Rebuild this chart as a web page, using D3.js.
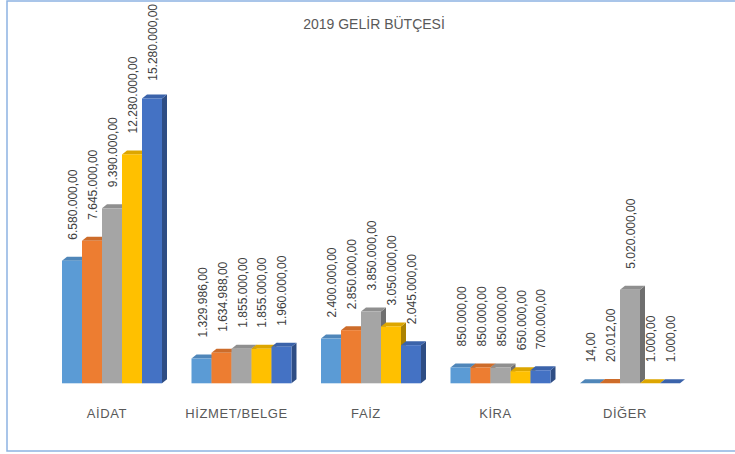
<!DOCTYPE html>
<html>
<head>
<meta charset="utf-8">
<script src="https://cdn.jsdelivr.net/npm/d3@7"></script>
<style>
  body { margin: 0; background: #fff; }
  text { font-family: "Liberation Sans", Arial, sans-serif; }
</style>
</head>
<body>
<div id="chart"></div>
<script>
const categories = ["AİDAT", "HİZMET/BELGE", "FAİZ", "KİRA", "DİĞER"];
const seriesA = [6580000, 1329986, 2400000, 850000, 14];
const seriesB = [7645000, 1634988, 2850000, 850000, 20012];
const seriesC = [9390000, 1855000, 3850000, 850000, 5020000];
const seriesD = [12280000, 1855000, 3050000, 650000, 1000];
const seriesE = [15280000, 1960000, 2045000, 700000, 1000];
const colors = ["#5B9BD5", "#ED7D31", "#A5A5A5", "#FFC000", "#4472C4"];
const title = "2019 GELİR BÜTÇESİ";

const series = [seriesA, seriesB, seriesC, seriesD, seriesE];

const width = 735, height = 454;
const depthX = 5, depthY = -4;   // 3d offset of bar top / side
const labelGap = 21;

const trLocale = d3.formatLocale({ decimal: ",", thousands: ".", grouping: [3], currency: ["", ""] });
const fmt = trLocale.format(",.2f");

const svg = d3.select("#chart").append("svg")
    .attr("width", width)
    .attr("height", height);

svg.append("rect")
    .attr("x", 7).attr("y", 1)
    .attr("width", 800).attr("height", 450)
    .attr("fill", "#fff")
    .attr("stroke", "#8db3e2")
    .attr("stroke-width", 1.5);

svg.append("text")
    .attr("x", 374).attr("y", 29)
    .attr("text-anchor", "middle")
    .attr("font-size", 14)
    .attr("fill", "#595959")
    .text(title);

const x0 = d3.scaleBand()
    .domain(categories)
    .range([47.25, 694.75])
    .paddingInner(0.2278)
    .paddingOuter(0.1139);

const x1 = d3.scaleBand()
    .domain(d3.range(series.length))
    .range([0, x0.bandwidth()]);

const y = d3.scaleLinear()
    .domain([0, 18000000])
    .range([383.3, 383.3 - 18 * 18.64]);

const bars = [];
categories.forEach((cat, i) => {
    series.forEach((s, j) => {
        bars.push({ cat: cat, s: j, value: s[i] });
    });
});

const gBars = svg.append("g");
const w = x1.bandwidth();

// draw left to right so later bars cover the sides of earlier ones
bars.forEach(b => {
    const xl = x0(b.cat) + x1(b.s);
    const yt = y(b.value);
    const yb = y(0);
    const c = d3.color(colors[b.s]);
    const g = gBars.append("g");

    g.append("path")
        .attr("d", `M${xl + w},${yt} L${xl + w + depthX},${yt + depthY} L${xl + w + depthX},${yb + depthY} L${xl + w},${yb} Z`)
        .attr("fill", c.darker(1.1));
    g.append("path")
        .attr("d", `M${xl},${yt} L${xl + depthX},${yt + depthY} L${xl + w + depthX},${yt + depthY} L${xl + w},${yt} Z`)
        .attr("fill", c.darker(0.4));
    g.append("rect")
        .attr("x", xl).attr("y", yt)
        .attr("width", w).attr("height", Math.max(0, yb - yt))
        .attr("fill", c);
});

// value labels, rotated
const gLabels = svg.append("g");
bars.forEach(b => {
    const cx = x0(b.cat) + x1(b.s) + w / 2;
    const t = gLabels.append("text")
        .attr("font-size", 12)
        .attr("fill", "#404040")
        .attr("text-anchor", "start")
        .text(fmt(b.value));
    const len = t.node().getComputedTextLength();
    let start = y(b.value) - labelGap;
    if (start - len < 4) start = 4 + len;
    t.attr("transform", `translate(${cx + 5},${start}) rotate(-90)`);
});

// category axis labels
svg.append("g").selectAll("text")
    .data(categories)
    .join("text")
    .attr("x", d => x0(d) + x0.bandwidth() / 2 - 5)
    .attr("y", 418)
    .attr("text-anchor", "middle")
    .attr("font-size", 13)
    .attr("letter-spacing", 0.6)
    .attr("fill", "#595959")
    .text(d => d);
</script>
</body>
</html>
